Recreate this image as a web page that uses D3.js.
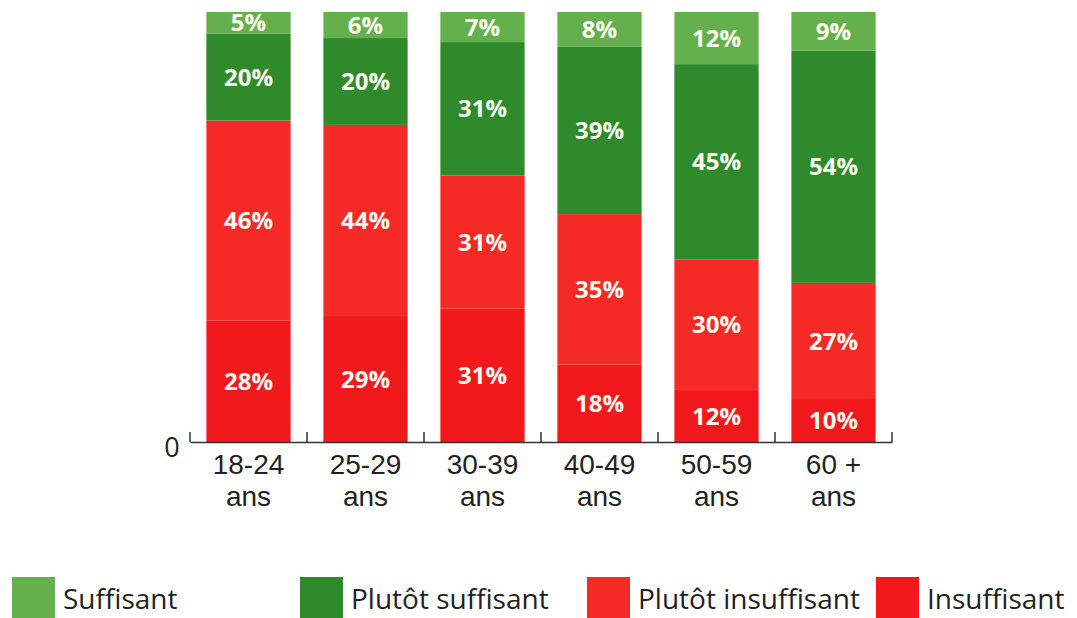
<!DOCTYPE html>
<html>
<head>
<meta charset="utf-8">
<script src="https://cdn.jsdelivr.net/npm/d3@7"></script>
<style>
  html, body { margin: 0; padding: 0; background: #ffffff; }
  svg { display: block; }
</style>
</head>
<body>
<svg id="chart" width="1077" height="618"></svg>
<script>
// ---- Data ----
const categories = ["18-24 ans", "25-29 ans", "30-39 ans", "40-49 ans", "50-59 ans", "60 + ans"];
const categoryLines = [["18-24", "ans"], ["25-29", "ans"], ["30-39", "ans"], ["40-49", "ans"], ["50-59", "ans"], ["60 +", "ans"]];
const seriesNames = ["Insuffisant", "Plutôt insuffisant", "Plutôt suffisant", "Suffisant"];
const insuffisant = [28, 29, 31, 18, 12, 10];
const plutotInsuffisant = [46, 44, 31, 35, 30, 27];
const plutotSuffisant = [20, 20, 31, 39, 45, 54];
const suffisant = [5, 6, 7, 8, 12, 9];
const yTickLabels = ["0"];
const legendOrder = ["Suffisant", "Plutôt suffisant", "Plutôt insuffisant", "Insuffisant"];

const colors = {
  "Insuffisant": "#f1191b",
  "Plutôt insuffisant": "#f52a26",
  "Plutôt suffisant": "#2f8a2b",
  "Suffisant": "#64b04c"
};

const table = categories.map((c, i) => ({
  category: c,
  "Insuffisant": insuffisant[i],
  "Plutôt insuffisant": plutotInsuffisant[i],
  "Plutôt suffisant": plutotSuffisant[i],
  "Suffisant": suffisant[i]
}));

const svg = d3.select("#chart");
const font = "'Open Sans', 'DejaVu Sans', sans-serif";
const catFont = "'Liberation Sans', Arial, sans-serif";

const x = d3.scaleBand().domain(categories).range([190, 892]).paddingInner(0.28).paddingOuter(0.14);
const y = d3.scaleLinear().domain([0, 1]).range([442, 12]);

const stacked = d3.stack().keys(seriesNames).offset(d3.stackOffsetExpand)(table);

// Bars
const layers = svg.append("g").selectAll("g").data(stacked).join("g")
  .attr("fill", d => colors[d.key]);
layers.selectAll("rect").data(d => d).join("rect")
  .attr("x", d => x(d.data.category))
  .attr("width", x.bandwidth())
  .attr("y", d => y(d[1]))
  .attr("height", d => y(d[0]) - y(d[1]));

// Value labels
const labelG = svg.append("g");
stacked.forEach(layer => {
  labelG.selectAll(null).data(layer).join("text")
    .attr("x", d => x(d.data.category) + x.bandwidth() / 2)
    .attr("y", d => (y(d[0]) + y(d[1])) / 2)
    .attr("dy", "0.36em")
    .attr("text-anchor", "middle")
    .attr("font-family", font)
    .attr("font-weight", "bold")
    .attr("font-size", 24)
    .attr("fill", "#fffdf2")
    .text(d => d.data[layer.key] + "%");
});

// X axis
const axis = d3.axisBottom(x).tickSize(0).tickFormat("");
const axisG = svg.append("g").attr("transform", "translate(0,442)").call(axis);
axisG.select(".domain").attr("stroke", "#333").attr("stroke-width", 1.5);
// ticks at band boundaries
const step = x.step();
const boundaries = categories.map(c => x(c) - x.paddingInner() * step / 2).concat([x.range()[1]]);
axisG.selectAll(".bnd").data(boundaries).join("line")
  .attr("class", "bnd")
  .attr("x1", d => d).attr("x2", d => d)
  .attr("y1", 0).attr("y2", -10)
  .attr("stroke", "#333").attr("stroke-width", 1.5);

// Category labels (two lines)
const catG = svg.append("g");
categoryLines.forEach((lines, i) => {
  const cx = x(categories[i]) + x.bandwidth() / 2;
  lines.forEach((ln, j) => {
    catG.append("text")
      .attr("x", cx)
      .attr("y", 474 + j * 31.5)
      .attr("text-anchor", "middle")
      .attr("font-family", catFont)
      .attr("font-size", 28)
      .attr("fill", "#231f20")
      .text(ln);
  });
});

// Y "0" label
svg.append("text")
  .attr("x", 172).attr("y", y(0) + 5)
  .attr("dy", "0.36em")
  .attr("text-anchor", "middle")
  .attr("font-family", font)
  .attr("font-size", 27)
  .attr("fill", "#231f20")
  .text(yTickLabels[0]);

// Legend
const legendX = [12, 300, 587, 876];
const legendG = svg.append("g");
legendOrder.forEach((name, i) => {
  legendG.append("rect")
    .attr("x", legendX[i]).attr("y", 577)
    .attr("width", 43).attr("height", 41)
    .attr("fill", colors[name]);
  legendG.append("text")
    .attr("x", legendX[i] + 51).attr("y", 609)
    .attr("font-family", font)
    .attr("font-size", 28)
    .attr("fill", "#231f20")
    .text(name);
});
</script>
</body>
</html>
